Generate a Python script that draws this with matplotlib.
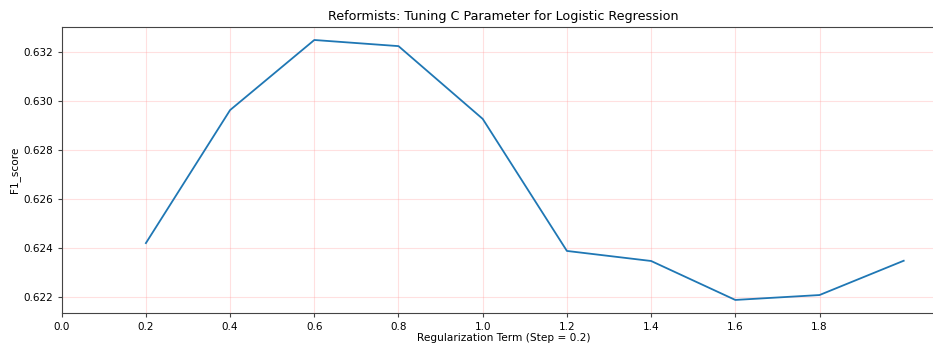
import matplotlib
matplotlib.use("Agg")
import matplotlib.pyplot as plt
import numpy as np

c_values = [0.2, 0.4, 0.6, 0.8, 1.0, 1.2, 1.4, 1.6, 1.8, 2.0]
f1_scores = [0.6242, 0.62963, 0.63249, 0.63224, 0.62927, 0.62388, 0.62347, 0.62188, 0.62208, 0.62348]
x_ticks = [0.0, 0.2, 0.4, 0.6, 0.8, 1.0, 1.2, 1.4, 1.6, 1.8]
y_ticks = [0.622, 0.624, 0.626, 0.628, 0.630, 0.632]

W, H = 933, 347
fig = plt.figure(figsize=(W/100, H/100), dpi=100)
left, right, top, bottom = 61.7, 945, 27, 313
ppu = 421.0
ax = fig.add_axes([left/W, 1-bottom/H, (right-left)/W, (bottom-top)/H])
ax.plot(c_values, f1_scores, color="#1f77b4", lw=1.3)
ax.set_xlim(0, (right-left)/ppu)
ax.set_ylim(0.622 - 16/24500, 0.632 + 25/24500)
ax.set_xticks(x_ticks)
ax.set_yticks(y_ticks)
ax.set_xticklabels([f"{v:.1f}" for v in x_ticks])
ax.set_yticklabels([f"{v:.3f}" for v in y_ticks])
ax.grid(True, color="#ff9999", alpha=0.3, lw=0.8)
for s in ax.spines.values():
    s.set_color("#444444")
ax.set_title("Reformists: Tuning C Parameter for Logistic Regression", fontsize=9.2, pad=5)
ax.set_xlabel("Regularization Term (Step = 0.2)", fontsize=7.6, labelpad=1)
ax.set_ylabel("F1_score", fontsize=7.6, labelpad=2)
ax.tick_params(labelsize=7.5, length=3, color="#444444")
fig.savefig("out.png", dpi=100)
